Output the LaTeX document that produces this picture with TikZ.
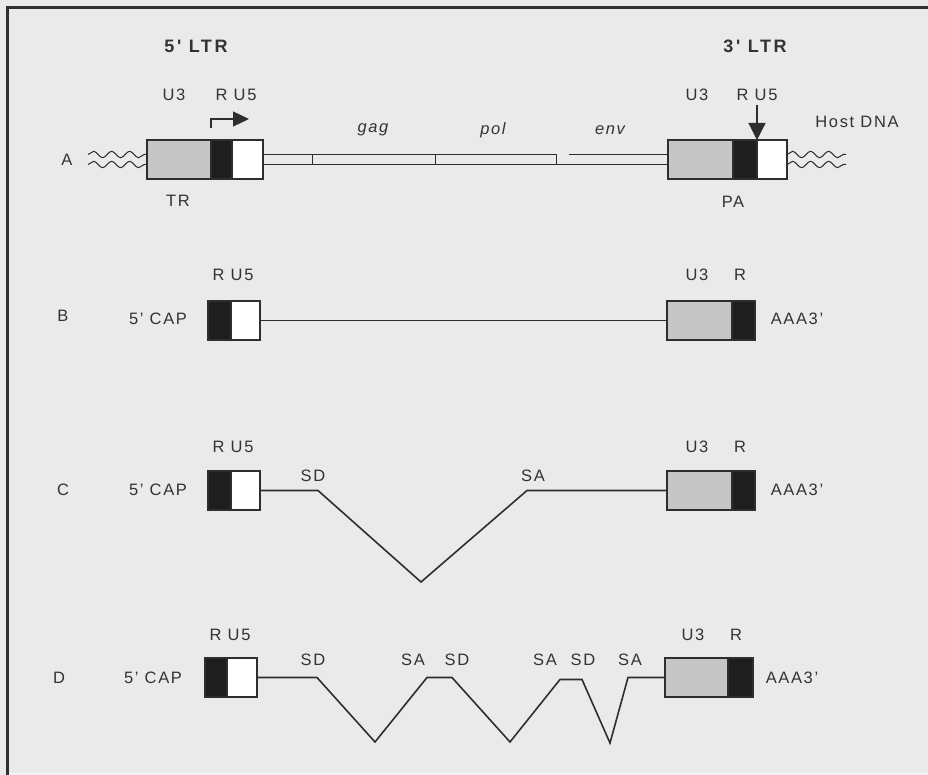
\documentclass[tikz,border=0pt]{standalone}
\usepackage{fontspec}
\setmainfont[LetterSpace=10]{Liberation Sans}
\newfontfamily\ttlfam[LetterSpace=14]{Liberation Sans}
\usetikzlibrary{decorations.pathmorphing,arrows.meta,calc}
\definecolor{bgc}{HTML}{EAEAEA}
\definecolor{grayc}{HTML}{C6C6C6}
\definecolor{blk}{HTML}{1E1E1E}
\definecolor{linec}{HTML}{2E2E2E}
\definecolor{txtc}{HTML}{333333}
\definecolor{framec}{HTML}{303030}
\begin{document}
\begin{tikzpicture}[x=1pt,y=-1pt,
  seg/.style={draw=linec,line width=1.1pt,inner sep=0pt,outer sep=0pt,anchor=north west,minimum height=39pt},
  lab/.style={text=txtc,inner sep=0pt,font=\fontsize{16.5}{19}\selectfont},
  ttl/.style={text=txtc,inner sep=0pt,font=\ttlfam\fontsize{18}{21}\selectfont\bfseries},
  gene/.style={text=txtc,inner sep=0pt,font=\fontsize{16.5}{19}\selectfont\itshape},
  splice/.style={draw=linec,line width=1.6pt,line join=miter},
  wavy/.style={draw=linec,line width=1pt,decorate,decoration={snake,amplitude=3.2pt,segment length=18pt}},
  dna/.style={draw=linec,line width=1pt}]
\fill[bgc] (0,0) rectangle (928,775);
\useasboundingbox (0,0) rectangle (928,775);
% frame
\draw[framec,line width=2.5pt] (7.5,775) -- (7.5,7.5) -- (928,7.5);
\draw[white!70!bgc,line width=1.5pt] (9,773.5) -- (928,773.5);

% titles
\node[ttl] (t5) at (196,46) {5' LTR};
\node[ttl] (t3) at (755,46) {3' LTR};

% ---------- Row A ----------
\node[seg,fill=grayc,minimum width=64pt] (aL3) at (147,140) {};
\node[seg,fill=blk,minimum width=21pt] (aLR) at (aL3.north east) {};
\node[seg,fill=white,minimum width=31pt] (aLU5) at (aLR.north east) {};
\node[seg,fill=grayc,minimum width=65pt] (aR3) at (668,140) {};
\node[seg,fill=blk,minimum width=24pt] (aRR) at (aR3.north east) {};
\node[seg,fill=white,minimum width=30pt] (aRU5) at (aRR.north east) {};

\node[lab] (A) at (67,160) {A};
\node[lab] (aU3l) at (174,95) {U3};
\node[lab] (aRU5l) at (236,95) {R U5};
\node[lab] (TR) at (178,201) {TR};
\node[lab] (aU3r) at (697,95) {U3};
\node[lab] (aRU5r) at (757,95) {R U5};
\node[lab] (host) at (857,122) {Host DNA};
\node[lab] (PA) at (733,202) {PA};
\node[gene] (gag) at (373,130) {gag};
\node[gene] (pol) at (493,130) {pol};
\node[gene] (env) at (610,130) {env};

% proviral DNA double line
\draw[dna] ($(aLU5.east)+(0,-5)$) -- (556,154.5);
\draw[dna] (569,154.5) -- ($(aR3.west)+(0,-5)$);
\draw[dna] ($(aLU5.east)+(0,5)$) -- ($(aR3.west)+(0,5)$);
\draw[dna] (312,154.5) -- (312,164.5);
\draw[dna] (435,154.5) -- (435,164.5);
\draw[dna] (556,154.5) -- (556,164.5);

% host DNA (wavy)
\draw[wavy] ($(aL3.west)+(-59,-5)$) -- ($(aL3.west)+(0,-5)$);
\draw[wavy] ($(aL3.west)+(-59,5)$) -- ($(aL3.west)+(0,5)$);
\draw[wavy] ($(aRU5.east)+(0,-5)$) -- ($(aRU5.east)+(59,-5)$);
\draw[wavy] ($(aRU5.east)+(0,5)$) -- ($(aRU5.east)+(59,5)$);

% promoter and polyA arrows
\draw[linec,line width=1.2pt,-{Triangle[length=16pt,width=15pt]}] ($(aLR.north west)+(0,-12)$) |- ($(aLR.north west)+(38,-21)$);
\draw[linec,line width=1.2pt,-{Triangle[length=17pt,width=17pt]}] ($(aRR.north east)+(0,-35)$) -- (aRR.north east);

% ---------- Row B ----------
\node[seg,fill=blk,minimum width=23pt] (bLR) at (208,301) {};
\node[seg,fill=white,minimum width=29pt] (bLU5) at (bLR.north east) {};
\node[seg,fill=grayc,minimum width=65pt] (bR3) at (667,301) {};
\node[seg,fill=blk,minimum width=23pt] (bRR) at (bR3.north east) {};
\draw[dna] (bLU5.east) -- (bR3.west);
\node[lab] (B) at (63,316) {B};
\node[lab] (bcap) at (158,319) {5' CAP};
\node[lab] (bRU5l) at (233,275) {R U5};
\node[lab] (bU3) at (697,275) {U3};
\node[lab] (bR) at (740,275) {R};
\node[lab] (bAAA) at (797,319) {AAA3'};

% ---------- Row C ----------
\node[seg,fill=blk,minimum width=23pt] (cLR) at (208,471) {};
\node[seg,fill=white,minimum width=29pt] (cLU5) at (cLR.north east) {};
\node[seg,fill=grayc,minimum width=65pt] (cR3) at (667,471) {};
\node[seg,fill=blk,minimum width=23pt] (cRR) at (cR3.north east) {};
\draw[splice] (cLU5.east) -- (318,490.5) -- (421,582) -- (527,490.5) -- (cR3.west);
\node[lab] (C) at (63,490) {C};
\node[lab] (ccap) at (158,490) {5' CAP};
\node[lab] (cRU5l) at (233,447) {R U5};
\node[lab] (cSD) at (313,476) {SD};
\node[lab] (cSA) at (533,476) {SA};
\node[lab] (cU3) at (697,447) {U3};
\node[lab] (cR) at (740,447) {R};
\node[lab] (cAAA) at (797,490) {AAA3'};

% ---------- Row D ----------
\node[seg,fill=blk,minimum width=22pt] (dLR) at (205,658) {};
\node[seg,fill=white,minimum width=30pt] (dLU5) at (dLR.north east) {};
\node[seg,fill=grayc,minimum width=63pt] (dR3) at (665,658) {};
\node[seg,fill=blk,minimum width=25pt] (dRR) at (dR3.north east) {};
\draw[splice] (dLU5.east) -- (317,677.5) -- (375,742) -- (427,677.5) -- (452,677.5) -- (510,742) -- (560,679.5) -- (582,679.5) -- (610,743) -- (628,677.5) -- (dR3.west);
\node[lab] (D) at (59,678) {D};
\node[lab] (dcap) at (153,678) {5' CAP};
\node[lab] (dRU5l) at (230,635) {R U5};
\node[lab] (dSD1) at (313,660) {SD};
\node[lab] (dSA1) at (413,660) {SA};
\node[lab] (dSD2) at (457,660) {SD};
\node[lab] (dSA2) at (545,660) {SA};
\node[lab] (dSD3) at (583,660) {SD};
\node[lab] (dSA3) at (630,660) {SA};
\node[lab] (dU3) at (693,635) {U3};
\node[lab] (dR) at (736,635) {R};
\node[lab] (dAAA) at (792,678) {AAA3'};
\end{tikzpicture}
\end{document}
